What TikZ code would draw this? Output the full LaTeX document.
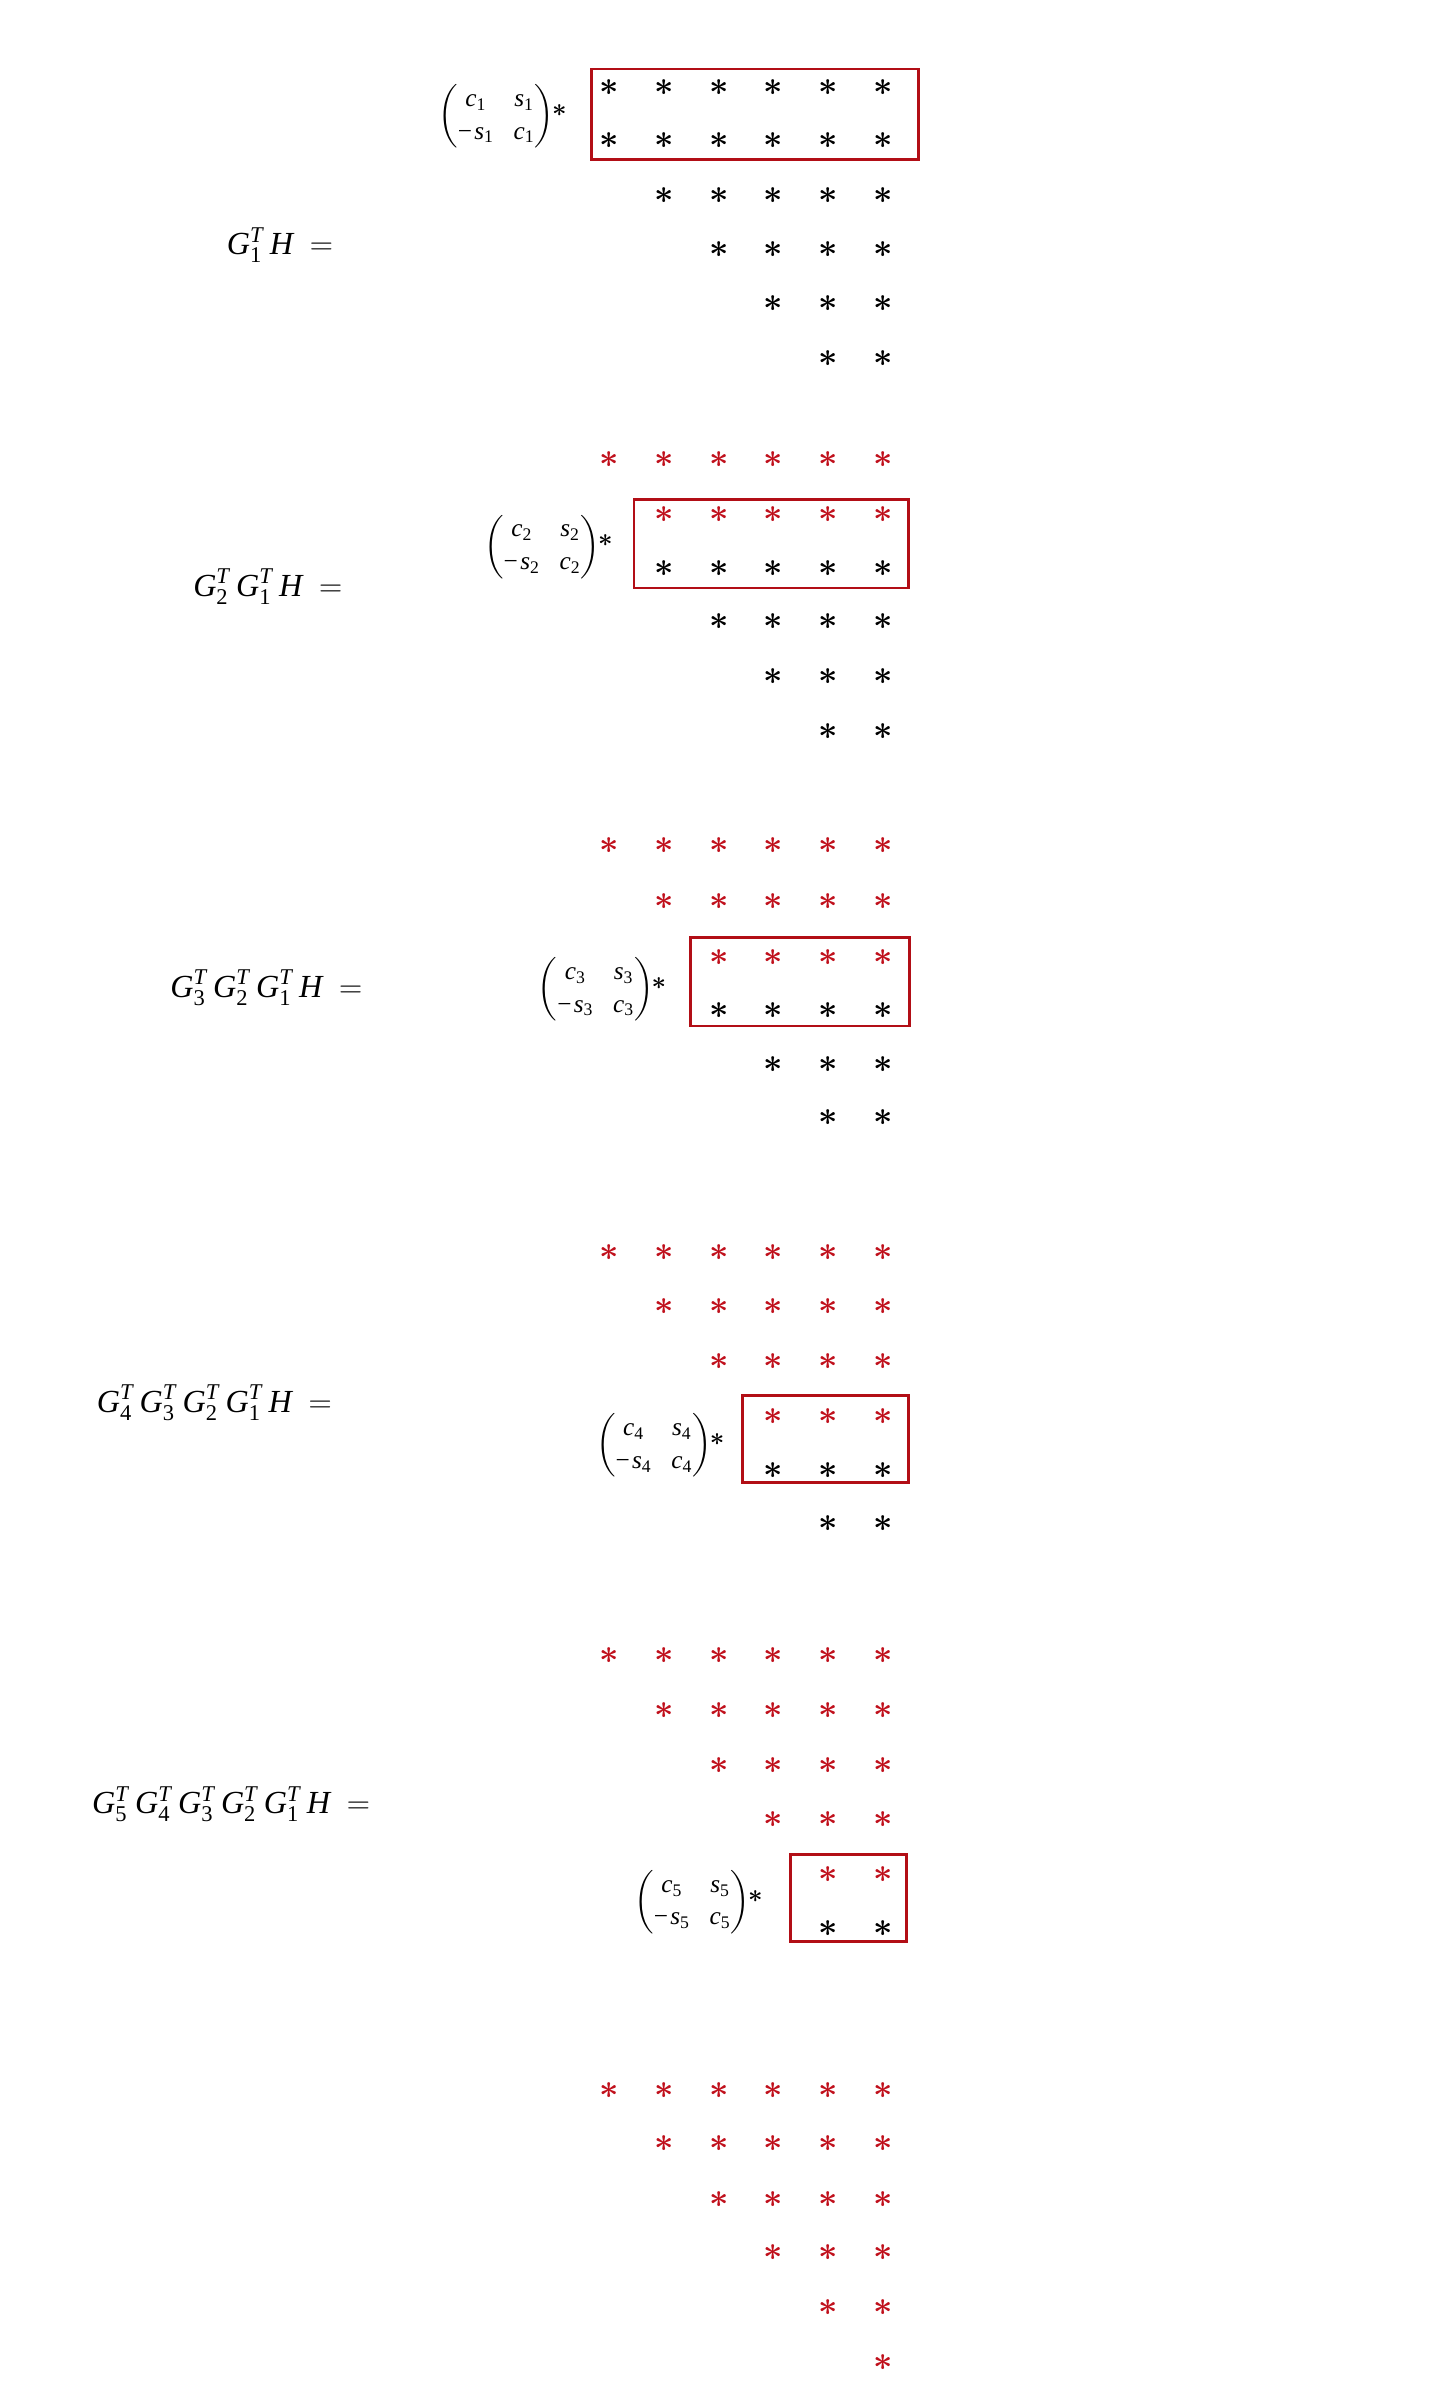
\RequirePackage{fix-cm}
\documentclass[tikz,border=0pt]{standalone}
\usepackage{amsmath}
\usepackage{fontspec}
\setmainfont{Liberation Serif}
\definecolor{redstar}{RGB}{192,16,28}
\definecolor{redbox}{RGB}{178,14,22}
\newcommand\Gt[1]{\text{\itshape G}^{\text{\itshape T}}_{\text{#1}}\hspace{4.2pt}}
\newcommand\ee[2]{\text{\itshape #1}_{\text{#2}}}
\newcommand\mtx[1]{$\setlength{\arraycolsep}{6.5pt}\renewcommand{\arraystretch}{1.12}\begin{pmatrix}\ee{c}{#1} & \ee{s}{#1}\\ \text{−}\hspace{1.5pt}\ee{s}{#1} & \ee{c}{#1}\end{pmatrix}\hspace{-4pt}\raisebox{4pt}{$\boldsymbol{\ast}$}$}
\newcommand\strow[6]{%
  \foreach \c in {#4,...,#5}{\node[#6] (s#1-#2-\c) at ({397.5+35.9*(\c-1)},#3) {$\boldsymbol{\ast}$};}}
\tikzset{
  st/.style={inner sep=0pt, font=\fontsize{22}{22}\selectfont},
  bk/.style={st, text=black},
  rd/.style={st, text=redstar},
  hbox/.style={draw=redbox, line width=1.8pt},
  lab/.style={anchor=west, inner sep=0pt, font=\fontsize{21}{25}\selectfont},
  mat/.style={anchor=west, inner sep=0pt, font=\fontsize{16.5}{19}\selectfont},
}
\newcommand\eqs{\hspace{11pt}{=}}
\begin{document}
\begin{tikzpicture}[x=1pt,y=-1pt]
\useasboundingbox (0,0) rectangle (940,1560);
% ---- block 1
\node[lab] (l1) at (148,160) {$\Gt{1}\text{\itshape H}\eqs$};
\node[mat] (m1) at (286,76) {\mtx{1}};
\strow{1}{1}{57}{1}{6}{bk}
\strow{1}{2}{92}{1}{6}{bk}
\strow{1}{3}{128}{2}{6}{bk}
\strow{1}{4}{163}{3}{6}{bk}
\strow{1}{5}{198}{4}{6}{bk}
\strow{1}{6}{234}{5}{6}{bk}
\draw[hbox] (386,45) rectangle (600,104);
% ---- block 2
\node[lab] (l2) at (126,383) {$\Gt{2}\Gt{1}\text{\itshape H}\eqs$};
\node[mat] (m2) at (316,357) {\mtx{2}};
\strow{2}{1}{300}{1}{6}{rd}
\strow{2}{2}{336}{2}{6}{rd}
\strow{2}{3}{371}{2}{6}{bk}
\strow{2}{4}{406}{3}{6}{bk}
\strow{2}{5}{442}{4}{6}{bk}
\strow{2}{6}{478}{5}{6}{bk}
\draw[hbox] (414,326) rectangle (593,384);
% ---- block 3
\node[lab] (l3) at (111,645) {$\Gt{3}\Gt{2}\Gt{1}\text{\itshape H}\eqs$};
\node[mat] (m3) at (351,646) {\mtx{3}};
\strow{3}{1}{552}{1}{6}{rd}
\strow{3}{2}{589}{2}{6}{rd}
\strow{3}{3}{625}{3}{6}{rd}
\strow{3}{4}{660}{3}{6}{bk}
\strow{3}{5}{695}{4}{6}{bk}
\strow{3}{6}{730}{5}{6}{bk}
\draw[hbox] (451,612) rectangle (594,670);
% ---- block 4
\node[lab] (l4) at (63,916) {$\Gt{4}\Gt{3}\Gt{2}\Gt{1}\text{\itshape H}\eqs$};
\node[mat] (m4) at (389,944) {\mtx{4}};
\strow{4}{1}{818}{1}{6}{rd}
\strow{4}{2}{853}{2}{6}{rd}
\strow{4}{3}{889}{3}{6}{rd}
\strow{4}{4}{925}{4}{6}{rd}
\strow{4}{5}{960}{4}{6}{bk}
\strow{4}{6}{995}{5}{6}{bk}
\draw[hbox] (485,911) rectangle (593,968);
% ---- block 5
\node[lab] (l5) at (60,1178) {$\Gt{5}\Gt{4}\Gt{3}\Gt{2}\Gt{1}\text{\itshape H}\eqs$};
\node[mat] (m5) at (414,1242) {\mtx{5}};
\strow{5}{1}{1081}{1}{6}{rd}
\strow{5}{2}{1117}{2}{6}{rd}
\strow{5}{3}{1153}{3}{6}{rd}
\strow{5}{4}{1188}{4}{6}{rd}
\strow{5}{5}{1224}{5}{6}{rd}
\strow{5}{6}{1259}{5}{6}{bk}
\draw[hbox] (516,1211) rectangle (592,1268);
% ---- block 6
\strow{6}{1}{1365}{1}{6}{rd}
\strow{6}{2}{1400}{2}{6}{rd}
\strow{6}{3}{1436}{3}{6}{rd}
\strow{6}{4}{1471}{4}{6}{rd}
\strow{6}{5}{1507}{5}{6}{rd}
\strow{6}{6}{1543}{6}{6}{rd}
\end{tikzpicture}
\end{document}
